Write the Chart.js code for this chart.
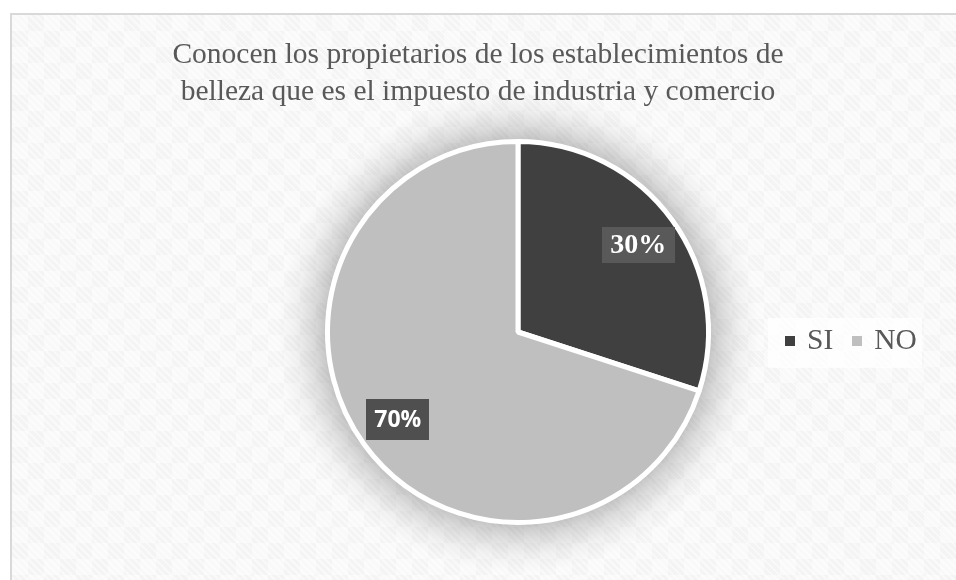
<!DOCTYPE html>
<html lang="es">
<head>
<meta charset="utf-8">
<title>Impuesto de industria y comercio</title>
<script src="https://cdn.jsdelivr.net/npm/chart.js@4.4.1/dist/chart.umd.min.js"></script>
<style>
    html, body {
        margin: 0;
        padding: 0;
        background: #ffffff;
        overflow: hidden;
    }

    #stage {
        position: relative;
        width: 956px;
        height: 580px;
        overflow: hidden;
    }

    /* Chart frame with the light checked/striped fill */
    .chart-box {
        position: absolute;
        left: 10px;
        top: 13px;
        width: 960px;
        height: 600px;
        border-top: 2px solid #d9d9d9;
        border-left: 2px solid #d9d9d9;
        background-color: #f7f7f7;
        background-image:
            repeating-linear-gradient(45deg, rgba(255, 255, 255, 0.5) 0 2px, rgba(255, 255, 255, 0) 2px 5px),
            conic-gradient(#f4f4f4 25%, #f9f9f9 0 50%, #f4f4f4 0 75%, #f9f9f9 0);
        background-size: auto, 32px 32px;
    }

    #pie {
        position: absolute;
        left: 0;
        top: 0;
    }

    .chart-title {
        position: absolute;
        left: 0;
        top: 35px;
        width: 956px;
        text-align: center;
        font-family: "Liberation Serif", "Times New Roman", serif;
        font-size: 29.5px;
        line-height: 37px;
        color: #595959;
    }

    .legend {
        position: absolute;
        left: 768px;
        top: 318px;
        width: 154px;
        height: 50px;
        background: rgba(255, 255, 255, 0.75);
    }

    .legend ul {
        list-style: none;
        margin: 0;
        padding: 2.6px 0 0 17px;
        display: flex;
        font-family: "Liberation Serif", "Times New Roman", serif;
        font-size: 29.5px;
        line-height: 37px;
        color: #595959;
    }

    .legend li {
        display: flex;
        align-items: center;
        margin-right: 19px;
    }

    .legend .swatch {
        width: 10px;
        height: 10px;
        margin-right: 12px;
        position: relative;
        top: 2px;
    }
</style>
</head>
<body>
<div id="stage">
    <div class="chart-box"></div>
    <canvas id="pie" width="956" height="580"></canvas>
    <div class="chart-title">Conocen los propietarios de los establecimientos de<br>belleza que es el impuesto de industria y comercio</div>
    <div class="legend"><ul id="legend-list"></ul></div>
</div>

<script>
// Survey answers
const categories = ['SI', 'NO'];
const percentages = [30, 70];
const sliceColors = ['#404040', '#bfbfbf'];

// Label look per slice (the two labels were formatted differently)
const labelStyles = [
    { font: 'bold 28px "Liberation Serif", "Times New Roman", serif', box: [73, 36], fill: '#595959' },
    { font: 'bold 23px "Open Sans", "Liberation Sans", sans-serif', box: [63, 41], fill: '#4f4f4f' }
];

// Soft glow ring drawn under the whole pie
const pieGlow = {
    id: 'pieGlow',
    beforeDatasetsDraw(chart) {
        const arc = chart.getDatasetMeta(0).data[0];
        if (!arc) return;
        const ctx = chart.ctx;
        const r = arc.outerRadius;
        const spread = 50;
        const glow = ctx.createRadialGradient(arc.x, arc.y, r, arc.x, arc.y, r + spread);
        glow.addColorStop(0, 'rgba(0, 0, 0, 0.22)');
        glow.addColorStop(0.3, 'rgba(0, 0, 0, 0.12)');
        glow.addColorStop(0.65, 'rgba(0, 0, 0, 0.04)');
        glow.addColorStop(1, 'rgba(0, 0, 0, 0)');
        ctx.save();
        ctx.fillStyle = glow;
        ctx.beginPath();
        ctx.arc(arc.x, arc.y, r + spread, 0, Math.PI * 2);
        ctx.fill();
        ctx.restore();
    }
};

// Percentage labels in filled boxes
const sliceLabels = {
    id: 'sliceLabels',
    afterDatasetsDraw(chart) {
        const ctx = chart.ctx;
        const values = chart.data.datasets[0].data;
        chart.getDatasetMeta(0).data.forEach((arc, i) => {
            const { x, y, startAngle, endAngle, outerRadius } =
                arc.getProps(['x', 'y', 'startAngle', 'endAngle', 'outerRadius'], true);
            const mid = (startAngle + endAngle) / 2;
            const r = outerRadius * 0.78;
            const lx = x + Math.cos(mid) * r;
            const ly = y + Math.sin(mid) * r;
            const style = labelStyles[i];
            const [bw, bh] = style.box;

            ctx.save();
            ctx.fillStyle = style.fill;
            ctx.fillRect(Math.round(lx - bw / 2), Math.round(ly - bh / 2), bw, bh);
            ctx.font = style.font;
            ctx.fillStyle = '#ffffff';
            ctx.textAlign = 'center';
            ctx.textBaseline = 'middle';
            ctx.fillText(values[i] + '%', lx, ly + 1);
            ctx.restore();
        });
    }
};

function buildLegend() {
    const list = document.getElementById('legend-list');
    list.innerHTML = categories.map((label, i) => `
        <li><span class="swatch" style="background:${sliceColors[i]}"></span>${label}</li>
    `).join('');
}

const chart = new Chart(document.getElementById('pie'), {
    type: 'pie',
    data: {
        labels: categories,
        datasets: [{
            data: percentages,
            backgroundColor: sliceColors,
            borderColor: '#ffffff',
            borderWidth: 5
        }]
    },
    options: {
        responsive: false,
        animation: false,
        layout: {
            padding: { left: 325, right: 245, top: 139, bottom: 55 }
        },
        plugins: {
            legend: { display: false },
            title: { display: false },
            tooltip: { enabled: false }
        }
    },
    plugins: [pieGlow, sliceLabels]
});

buildLegend();
</script>
</body>
</html>
